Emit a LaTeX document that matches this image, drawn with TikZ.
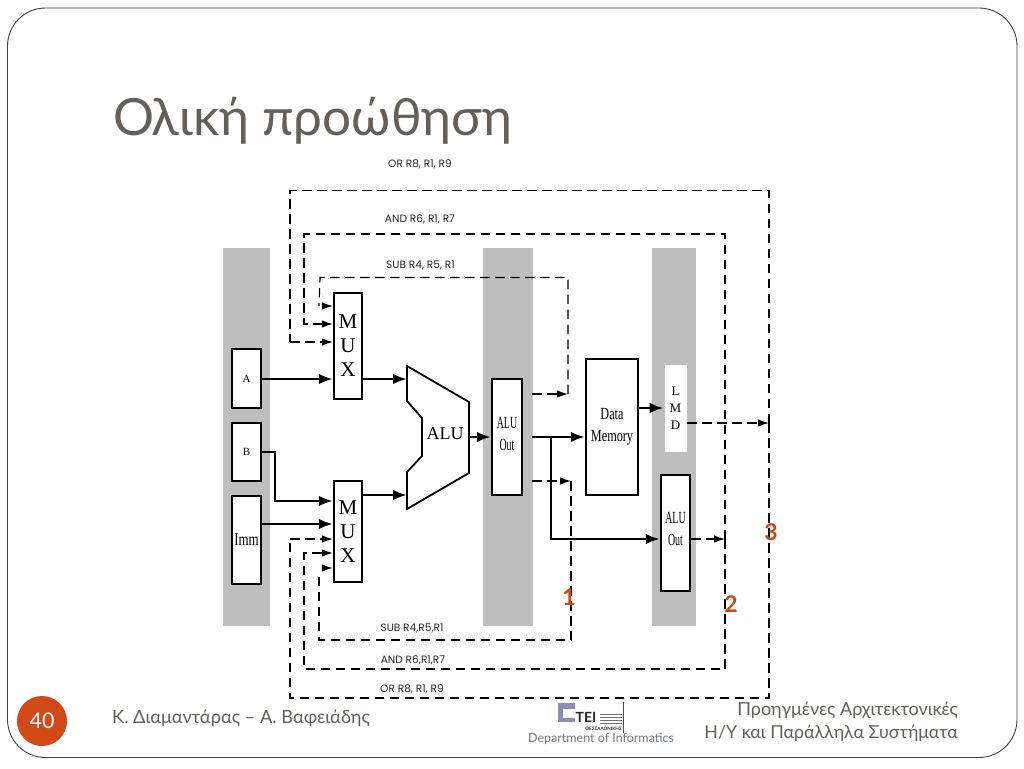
\documentclass[tikz,border=0pt]{standalone}
\usepackage{fontspec}
\usetikzlibrary{arrows.meta}
\setmainfont{Lato}
\newfontfamily\cond[FakeStretch=0.72]{Liberation Serif}
\newfontfamily\condn[FakeStretch=0.58]{Liberation Serif}
\newfontfamily\serifn{Liberation Serif}
\newfontfamily\labf{Poppins}
\definecolor{titlec}{HTML}{655F5C}
\definecolor{orangec}{HTML}{D34817}
\definecolor{barc}{HTML}{BEBEBE}
\tikzset{
  x=1pt,y=-1pt,
  bar/.style={fill=barc,draw=none,inner sep=0pt},
  blk/.style={draw=black,fill=white,line width=2.3pt,inner sep=0pt,align=center},
  solidarrow/.style={line width=2.6pt,-{Latex[length=14pt,width=10.5pt]}},
  dashline/.style={line width=1.2pt,dash pattern=on 9.5pt off 5.5pt},
  dasharrow/.style={dashline,-{Latex[length=11pt,width=7.5pt]}},
  lab/.style={font=\labf\fontsize{10.6}{12}\selectfont,text=black!85,inner sep=0pt},
  num/.style={font=\bfseries\fontsize{23}{24}\selectfont,text=orangec,inner sep=0pt},
  foot/.style={inner sep=0pt,text=titlec,font=\fontsize{18}{20}\selectfont},
}
\begin{document}
\begin{tikzpicture}
\useasboundingbox (0,0) rectangle (1024,768);
\fill[white] (0,0) rectangle (1024,768);
\draw[line width=0.9pt,draw=black!75,rounded corners=38pt] (7.5,8) rectangle (1017,757.5);
% title and footer
\node[anchor=base west,inner sep=0pt,text=titlec,font=\fontsize{51.3}{60}\selectfont] (title) at (113,135) {Ολική προώθηση};
\node[circle,fill=orangec,minimum size=50pt,inner sep=0pt,text=white,font=\fontsize{21.5}{24}\selectfont] (pageno) at (42,721) {40};
\node[foot,anchor=base west,font=\fontsize{18.2}{20}\selectfont] (authors) at (112,723) {Κ. Διαμαντάρας – Α. Βαφειάδης};
\node[foot,anchor=base east] (course1) at (958,715) {Προηγμένες Αρχιτεκτονικές};
\node[foot,anchor=base east,font=\fontsize{17.8}{20}\selectfont] (course2) at (958,738) {Η/Υ και Παράλληλα Συστήματα};
% logo
\fill[blue!35!black!45] (558,703) rectangle (575,722);
\fill[white] (563,709) rectangle (575,718);
\draw[line width=0.8pt,black!70] (623.5,702) -- (623.5,733);
\node[inner sep=0pt,font=\bfseries\fontsize{14}{15}\selectfont,text=black!85] (tei) at (586,717) {ΤΕΙ};
\foreach \yy in {714,717,720,723}{\draw[line width=0.8pt,black!55] (600,\yy) -- (622,\yy);}
\node[inner sep=0pt,anchor=east,font=\bfseries\fontsize{4.6}{5}\selectfont,text=black!85] (city) at (622,729) {ΘΕΣΣΑΛΟΝΙΚΗΣ};
\node[inner sep=0pt,font=\fontsize{12.5}{14}\selectfont,text=blue!30!black!55] (dept) at (601,739) {Department of Informatics};
% pipeline bars
\node[bar,minimum width=47pt,minimum height=378pt] (bar1) at (246.5,437) {};
\node[bar,minimum width=50pt,minimum height=378pt] (bar2) at (507.5,437) {};
\node[bar,minimum width=44pt,minimum height=378pt] (bar3) at (674,437) {};
% blocks
\node[blk,minimum width=29pt,minimum height=59pt,font=\serifn\fontsize{11}{13}\selectfont] (a) at (246.5,378.5) {A};
\node[blk,minimum width=29pt,minimum height=58pt,font=\serifn\fontsize{11}{13}\selectfont] (b) at (246.5,452) {B};
\node[blk,minimum width=29pt,minimum height=88pt,font=\cond\fontsize{18}{20}\selectfont] (imm) at (246.5,540) {Imm};
\node[blk,minimum width=28pt,minimum height=106pt,font=\serifn\fontsize{21}{24}\selectfont] (muxa) at (348,346) {M\\U\\X};
\node[blk,minimum width=28pt,minimum height=101pt,font=\serifn\fontsize{21}{24}\selectfont] (muxb) at (348,531.5) {M\\U\\X};
\draw[line width=1.8pt,fill=white,line join=miter] (407,366) -- (469,402) -- (469,473) -- (407,509) -- (407,472) -- (422,456) -- (422,418) -- (407,401) -- cycle;
\coordinate (alue) at (469,437);
\coordinate (aluat) at (407,379);
\coordinate (alubt) at (407,495);
\node[inner sep=0pt,font=\serifn\fontsize{18}{20}\selectfont] (alu) at (445,434) {ALU};
\node[blk,minimum width=30pt,minimum height=116pt,text depth=7pt,font=\condn\fontsize{17}{22}\selectfont] (aluouta) at (507,437) {ALU\\Out};
\node[blk,minimum width=52pt,minimum height=136pt,text depth=5pt,font=\cond\fontsize{17}{22}\selectfont] (dmem) at (612,427) {Data\\Memory};
\node[draw=black!25,line width=0.6pt,fill=white,minimum width=23pt,minimum height=88pt,inner sep=0pt,align=center,font=\serifn\fontsize{13}{17}\selectfont] (lmd) at (675.5,408) {L\\M\\D};
\node[blk,minimum width=29pt,minimum height=116pt,text depth=9pt,font=\condn\fontsize{17}{22}\selectfont] (aluoutb) at (675.5,533) {ALU\\Out};
% solid connectors
\draw[solidarrow] (a.east |- 0,379) -- (muxa.west |- 0,379);
\draw[solidarrow] (muxa.east |- 0,379) -- (aluat);
\draw[solidarrow] (muxb.east |- 0,495) -- (alubt);
\draw[solidarrow] (b.east |- 0,452) -- (275,452) -- (275,501) -- (muxb.west |- 0,501);
\draw[solidarrow] (imm.east |- 0,524) -- (muxb.west |- 0,524);
\draw[solidarrow] (alue) -- (aluouta.west |- 0,437);
\draw[solidarrow] (532,437) -- (dmem.west |- 0,437);
\draw[solidarrow] (551,437) -- (551,539) -- (aluoutb.west |- 0,539);
\draw[solidarrow] (dmem.east |- 0,408) -- (lmd.west |- 0,408);
% forwarding paths
\coordinate (fa) at (532,394);
\coordinate (fb) at (532,481);
\draw[dasharrow] (fa) -- (568,394);
\draw[dashline] (568,394) -- (568,277.5) -- (320,277.5) -- (319,306);
\draw[dasharrow] (322,306) -- (muxa.west |- 0,306);
\draw[dasharrow] (fb) -- (571,481);
\draw[dashline] (571,481) -- (571,640) -- (319,640) -- (319,572);
\draw[dasharrow] (322,568) -- (muxb.west |- 0,568);
\draw[dashline] (725,539) -- (725,234) -- (304,234) -- (304,324) -- (313,324);
\draw[dasharrow] (313,324) -- (muxa.west |- 0,324);
\draw[dashline] (725,539) -- (725,669) -- (304,669) -- (304,553) -- (313,553);
\draw[dasharrow] (313,553) -- (muxb.west |- 0,553);
\draw[dashline] (769,423) -- (769,190.5) -- (290,190.5) -- (290,342);
\draw[dasharrow] (290,342) -- (muxa.west |- 0,342);
\draw[dashline] (769,423) -- (769,698) -- (290,698) -- (290,539);
\draw[dasharrow] (290,539) -- (muxb.west |- 0,539);
\draw[dasharrow] (lmd.east |- 0,423) -- (769,423);
\draw[dasharrow] (aluoutb.east |- 0,539) -- (725,539);
% labels
\node[lab] (l1) at (420,164) {OR R8, R1, R9};
\node[lab] (l2) at (420,219) {AND R6, R1, R7};
\node[lab] (l3) at (420.5,265) {SUB R4, R5, R1};
\node[lab] (l4) at (412,628) {SUB R4,R5,R1};
\node[lab] (l5) at (413,660.5) {AND R6,R1,R7};
\node[lab] (l6) at (412,689) {OR R8, R1, R9};
\node[num] (n1) at (569,597) {1};
\node[num] (n2) at (731,604) {2};
\node[num] (n3) at (771,532) {3};
\end{tikzpicture}
\end{document}
